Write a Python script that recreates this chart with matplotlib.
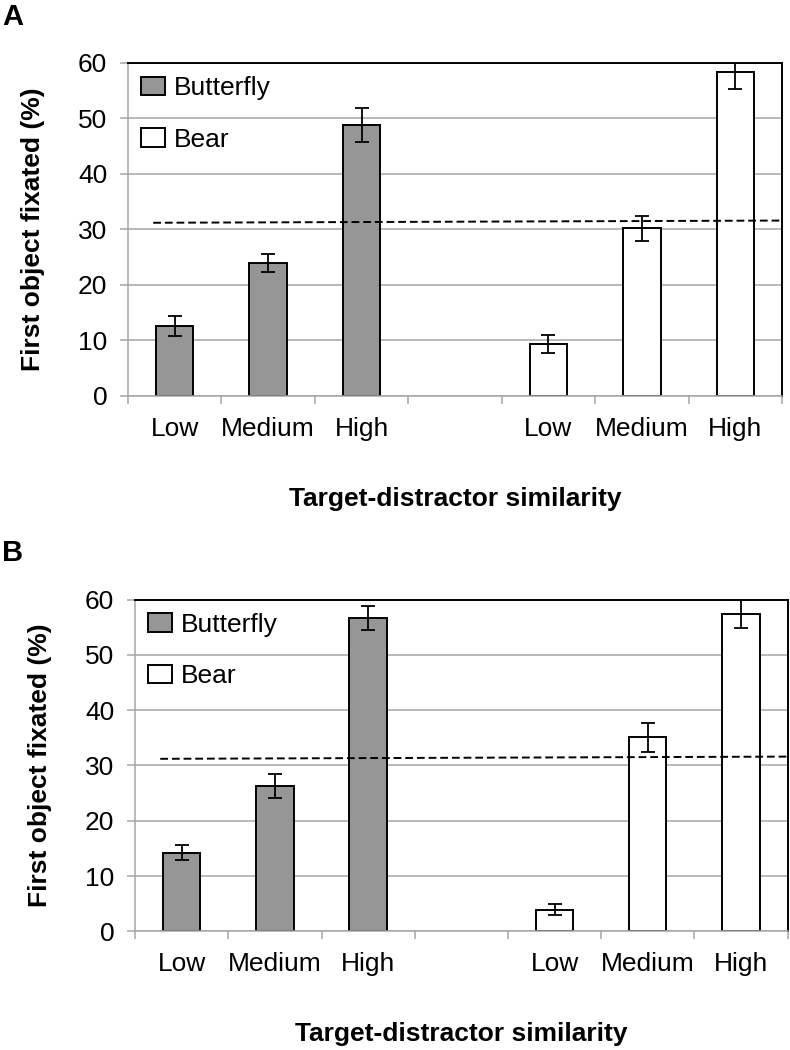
import numpy as np
import matplotlib
matplotlib.use('Agg')
import matplotlib.pyplot as plt

plt.rcParams['font.family'] = ['Liberation Sans', 'DejaVu Sans']

levels = ['Low', 'Medium', 'High']
tick_labels = levels + [''] + levels

# panel A
a_butterfly = [12.6, 23.9, 48.8]
a_butterfly_err = [1.8, 1.6, 3.1]
a_bear = [9.3, 30.2, 58.3]
a_bear_err = [1.6, 2.3, 2.9]
a_dashed = [31.2, 31.6]

# panel B
b_butterfly = [14.2, 26.3, 56.7]
b_butterfly_err = [1.35, 2.2, 2.2]
b_bear = [3.9, 35.1, 57.4]
b_bear_err = [1.0, 2.6, 2.6]
b_dashed = [31.2, 31.6]

gray_fill = '#969696'
grid_gray = '#a6a6a6'


def draw_panel(ax, butterfly, butterfly_err, bear, bear_err, dashed):
    x_b = np.arange(3)
    x_r = np.arange(4, 7)
    ax.set_axisbelow(True)
    ax.yaxis.grid(True, color=grid_gray, linewidth=1.1)
    ax.bar(x_b, butterfly, width=0.4, color=gray_fill, edgecolor='black',
           linewidth=1.4, label='Butterfly', zorder=2)
    ax.bar(x_r, bear, width=0.4, color='white', edgecolor='black',
           linewidth=1.4, label='Bear', zorder=2)
    ax.errorbar(x_b, butterfly, yerr=butterfly_err, fmt='none', ecolor='black',
                elinewidth=1.3, capsize=5, capthick=1.3, zorder=3)
    ax.errorbar(x_r, bear, yerr=bear_err, fmt='none', ecolor='black',
                elinewidth=1.3, capsize=5, capthick=1.3, zorder=3)
    ax.plot([-0.23, 6.5], dashed, color='black', linestyle=(0, (4, 2)),
            linewidth=1.4, zorder=4)

    ax.set_xlim(-0.5, 6.5)
    ax.set_ylim(0, 60)
    ax.set_yticks(range(0, 61, 10))
    ax.set_xticks(range(7))
    ax.set_xticklabels(tick_labels)
    ax.set_xticks(np.arange(-0.5, 7, 1), minor=True)
    ax.tick_params(axis='x', which='major', length=0, pad=15, labelsize=19)
    ax.tick_params(axis='x', which='minor', length=6, width=1.1, color=grid_gray,
                   direction='out')
    ax.tick_params(axis='y', length=6, width=1.1, color=grid_gray, pad=9,
                   labelsize=19)

    for side in ['top', 'right']:
        ax.spines[side].set_color('black')
        ax.spines[side].set_linewidth(1.4)
    for side in ['left', 'bottom']:
        ax.spines[side].set_color(grid_gray)
        ax.spines[side].set_linewidth(1.1)

    ax.set_ylabel('First object fixated (%)', fontsize=19, fontweight='bold')
    ax.yaxis.set_label_coords(-0.145, 0.5)
    ax.yaxis.label.set_va('center')
    ax.set_xlabel('Target-distractor similarity', fontsize=19,
                  fontweight='bold')
    ax.xaxis.set_label_coords(0.5, -0.31)
    ax.xaxis.label.set_va('center')
    ax.legend(loc='upper left', frameon=False, fontsize=19, handlelength=0.9,
              handleheight=0.7, labelspacing=1.05, borderaxespad=0.1,
              handletextpad=0.35)


fig = plt.figure(figsize=(7.9, 10.5), dpi=100)
ax_a = fig.add_axes([0.162, 0.623, 0.828, 0.317])
ax_b = fig.add_axes([0.171, 0.113, 0.826, 0.316])

draw_panel(ax_a, a_butterfly, a_butterfly_err, a_bear, a_bear_err, a_dashed)
draw_panel(ax_b, b_butterfly, b_butterfly_err, b_bear, b_bear_err, b_dashed)

fig.text(0.003, 0.997, 'A', fontsize=21, fontweight='bold', va='top')
fig.text(0.003, 0.487, 'B', fontsize=21, fontweight='bold', va='top')

fig.savefig('out.png', dpi=100)
